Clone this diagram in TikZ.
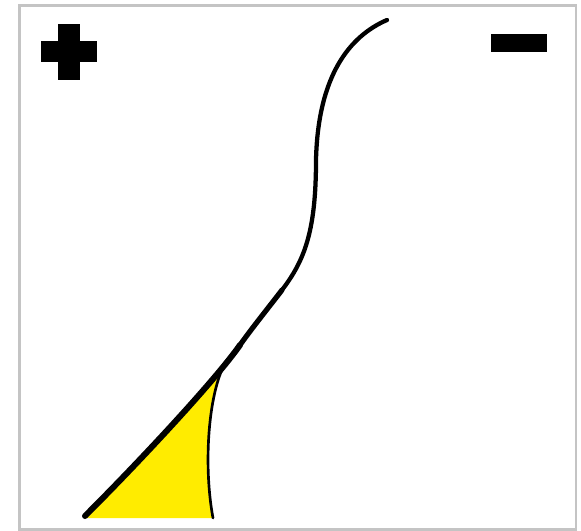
\documentclass[tikz,border=0pt]{standalone}
\usepackage{xcolor}
\usepackage{tikz}
\definecolor{framegray}{RGB}{196,196,196}
\definecolor{sailyellow}{RGB}{255,236,0}
\tikzset{
  frameline/.style={draw=framegray,line width=1.6pt},
  signbar/.style={fill=black},
  bankline/.style={draw=black,line width=3.2pt,line cap=round,line join=round},
  bankmid/.style={bankline,line width=3.9pt},
  bankheavy/.style={bankline,line width=4.5pt},
  edgeline/.style={draw=black,line width=2pt,line cap=round},
  sailfill/.style={fill=sailyellow},
}
\begin{document}
\begin{tikzpicture}[x=0.75pt,y=-0.75pt]
  \useasboundingbox (0,0) rectangle (581,531);
  % frame
  \draw[frameline] (19.5,5.5) rectangle (576,529.5);
  % plus and minus
  \path[signbar] (58,24) rectangle (80,80);
  \path[signbar] (41,41) rectangle (97,62);
  \path[signbar] (491,34) rectangle (547,52);
  % named points of the curve
  \coordinate (top) at (387,20);
  \coordinate (bend) at (316,160);
  \coordinate (hip) at (282,290);
  \coordinate (knee) at (240,345);
  \coordinate (toe) at (85,516);
  \coordinate (heel) at (213,518);
  \coordinate (tip) at (224,365);
  % yellow wedge
  \fill[sailfill] (knee) .. controls (215.5,380) and (140,461) .. (toe)
    -- (85,518) -- (heel) .. controls (204,470) and (207,400) .. (tip) -- cycle;
  % main curve
  \draw[bankline] (top) .. controls (350,36) and (318,75) .. (bend)
    .. controls (316,230) and (305,260) .. (hip);
  \draw[bankmid] (hip) .. controls (270,305.7) and (252,328) .. (knee);
  \draw[bankheavy] (knee) .. controls (215.5,380) and (140,461) .. (toe);
  % inner edge
  \draw[edgeline] (heel) .. controls (204,470) and (207,400) .. (tip);
\end{tikzpicture}
\end{document}
